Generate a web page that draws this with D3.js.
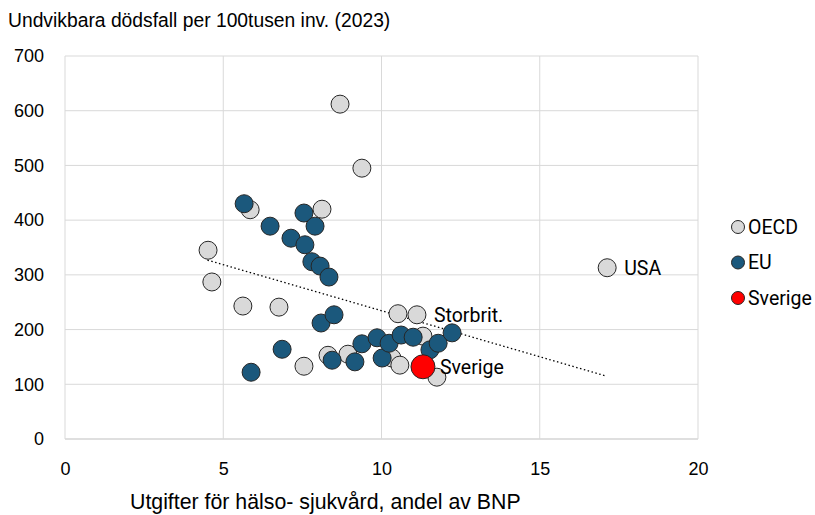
<!DOCTYPE html>
<html>
<head>
<meta charset="utf-8">
<script src="https://cdn.jsdelivr.net/npm/d3@7"></script>
<style>
  body { margin: 0; background: #fff; }
  text { font-family: "Liberation Sans", Arial, sans-serif; fill: #000; }
  .lbl { font-family: Roboto, "Liberation Sans", sans-serif; }
</style>
</head>
<body>
<div id="chart"></div>
<script>
// x = utgifter (% av BNP), y = undvikbara dödsfall per 100 000
var oecd = [
  [8.69, 612], [9.38, 495], [5.85, 419], [8.12, 420], [4.52, 345], [4.64, 287],
  [5.62, 243], [6.76, 241], [10.52, 229], [11.12, 227], [7.55, 133], [8.31, 153],
  [8.94, 155], [10.33, 148], [10.58, 135], [11.75, 113], [11.31, 188], [17.13, 313]
];
var eu = [
  [5.66, 430], [6.48, 389], [7.55, 413], [7.90, 389], [7.14, 367], [7.58, 355],
  [7.80, 324], [8.06, 316], [8.34, 296], [8.09, 212], [8.50, 227], [6.86, 164],
  [5.88, 122], [8.44, 144], [9.16, 141], [9.38, 174], [9.86, 185], [10.02, 148],
  [10.24, 175], [10.62, 190], [11.00, 186], [11.53, 163], [11.79, 175], [12.23, 194]
];
var sverige = [[11.31, 132]];
var trend = [[4.5, 327], [17.1, 115]];
var labels = [
  {name: "USA", x: 17.13, y: 313},
  {name: "Storbrit.", x: 11.12, y: 227},
  {name: "Sverige", x: 11.31, y: 132}
];
var xTicks = [0, 5, 10, 15, 20];
var yTicks = [0, 100, 200, 300, 400, 500, 600, 700];
var legendItems = [
  {name: "OECD", color: "#d9d9d9"},
  {name: "EU", color: "#1b587c"},
  {name: "Sverige", color: "#ff0000"}
];

var width = 815, height = 515;
var margin = {top: 56, right: 117, bottom: 76, left: 65};

var svg = d3.select("#chart").append("svg")
    .attr("width", width)
    .attr("height", height);

var x = d3.scaleLinear().domain([0, 20]).range([margin.left, width - margin.right]);
var y = d3.scaleLinear().domain([0, 700]).range([height - margin.bottom, margin.top]);

// grid
svg.append("g").selectAll("line.h")
    .data(yTicks)
    .enter().append("line")
    .attr("x1", x(0)).attr("x2", x(20))
    .attr("y1", function(d) { return y(d); })
    .attr("y2", function(d) { return y(d); })
    .attr("stroke", function(d) { return d == 0 ? "#bfbfbf" : "#d9d9d9"; })
    .attr("stroke-width", 1);

svg.append("g").selectAll("line.v")
    .data(xTicks)
    .enter().append("line")
    .attr("x1", function(d) { return x(d); })
    .attr("x2", function(d) { return x(d); })
    .attr("y1", y(0)).attr("y2", y(700))
    .attr("stroke", "#d9d9d9")
    .attr("stroke-width", 1);

// axes (labels only)
var xAxis = svg.append("g")
    .attr("transform", "translate(0," + (y(0) + 20) + ")")
    .call(d3.axisBottom(x).tickValues(xTicks).tickSize(0).tickFormat(d3.format("d")));
xAxis.select(".domain").remove();
xAxis.selectAll("text").style("font-size", "18px").attr("dy", "0.71em");

var yAxis = svg.append("g")
    .attr("transform", "translate(" + (margin.left - 21) + ",0)")
    .call(d3.axisLeft(y).tickValues(yTicks).tickSize(0).tickFormat(d3.format("d")));
yAxis.select(".domain").remove();
yAxis.selectAll("text").style("font-size", "18px").attr("x", 0);

// titles
svg.append("text")
    .attr("x", 8).attr("y", 27)
    .style("font-size", "19.3px")
    .text("Undvikbara dödsfall per 100tusen inv. (2023)");

svg.append("text")
    .attr("x", 130).attr("y", 509)
    .style("font-size", "21.3px")
    .text("Utgifter för hälso- sjukvård, andel av BNP");

// trend line
svg.append("path")
    .datum(trend)
    .attr("d", d3.line().x(function(d) { return x(d[0]); }).y(function(d) { return y(d[1]); }))
    .attr("fill", "none")
    .attr("stroke", "#000")
    .attr("stroke-width", 1.3)
    .attr("stroke-dasharray", "1.5,2.5");

// points
function drawPoints(data, r, fill) {
    svg.append("g").selectAll("circle")
        .data(data)
        .enter().append("circle")
        .attr("cx", function(d) { return x(d[0]); })
        .attr("cy", function(d) { return y(d[1]); })
        .attr("r", r)
        .attr("fill", fill)
        .attr("stroke", "#262626")
        .attr("stroke-width", 1);
}
drawPoints(oecd, 9, legendItems[0].color);
drawPoints(eu, 9, legendItems[1].color);
drawPoints(sverige, 12, legendItems[2].color);

// point labels
svg.append("g").selectAll("text")
    .data(labels)
    .enter().append("text")
    .attr("class", "lbl")
    .attr("x", function(d) { return x(d.x) + 17; })
    .attr("y", function(d) { return y(d.y); })
    .attr("dy", "0.35em")
    .style("font-size", "19.5px")
    .text(function(d) { return d.name; });

// legend
var legend = svg.append("g").selectAll("g")
    .data(legendItems)
    .enter().append("g")
    .attr("transform", function(d, i) { return "translate(738," + (227 + i * 35.5) + ")"; });

legend.append("circle")
    .attr("r", 6.5)
    .attr("fill", function(d) { return d.color; })
    .attr("stroke", "#262626")
    .attr("stroke-width", 1);

legend.append("text")
    .attr("class", "lbl")
    .attr("x", 10)
    .attr("dy", "0.35em")
    .style("font-size", "19.5px")
    .text(function(d) { return d.name; });
</script>
</body>
</html>
